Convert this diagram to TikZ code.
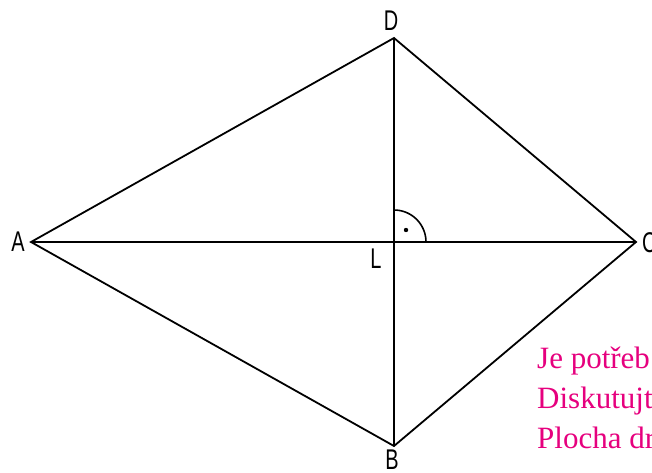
\documentclass[tikz,border=0pt]{standalone}
\usepackage{fontspec}
\setmainfont{Liberation Serif}
\newfontfamily\lblfont[FakeStretch=0.7]{Liberation Sans}
\definecolor{mag}{RGB}{230,0,126}
\begin{document}
\begin{tikzpicture}[x=1pt,y=1pt,
  edge/.style={line width=1.8pt, line join=miter},
  vlabel/.style={inner sep=0pt, font=\lblfont\fontsize{28.5}{28.5}\selectfont},
  note/.style={inner sep=0pt, anchor=base west, text=mag, font=\fontsize{31}{31}\selectfont}]
\useasboundingbox (0,0) rectangle (652,472);
\clip (0,0) rectangle (652,472);
\coordinate (A) at (31,230);
\coordinate (D) at (394,434);
\coordinate (C) at (636,230);
\coordinate (B) at (394,26);
\coordinate (L) at (394,230);
\draw[edge] (A) -- (D) -- (C) -- (B) -- cycle;
\draw[edge] (A) -- (C);
\draw[edge] (D) -- (B);
\draw[line width=1.6pt] ([xshift=32pt]L) arc[start angle=0, end angle=90, radius=32pt];
\fill ([xshift=12pt,yshift=12pt]L) circle (2.2pt);
\node[vlabel] (lA) at (18,230) {A};
\node[vlabel] (lD) at (391,451) {D};
\node[vlabel] (lB) at (392,12) {B};
\node[vlabel] (lL) at (376,213) {L};
\node[vlabel, anchor=west] (lC) at (642,229) {C};
\node[note] (t1) at (537,104) {Je potřeb};
\node[note] (t2) at (537,63.5) {Diskutujt};
\node[note] (t3) at (537,23.5) {Plocha dr};
\end{tikzpicture}
\end{document}
